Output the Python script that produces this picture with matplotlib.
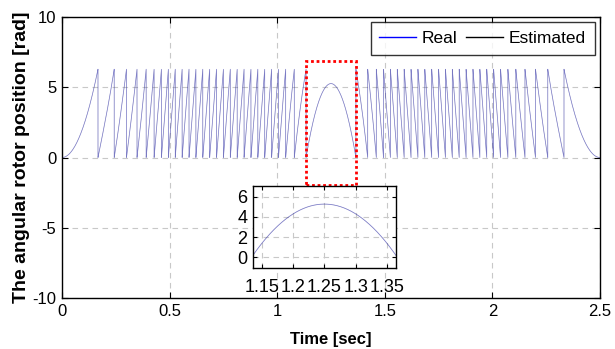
import numpy as np
import matplotlib
matplotlib.use("Agg")
import matplotlib.pyplot as plt
from matplotlib.lines import Line2D
from matplotlib.patches import Rectangle

# Rotor speed profile (time [s], speed [rad/s])
speed_t = [0, 0.167, 0.21, 0.273, 0.325, 0.372, 0.411, 0.446, 0.48, 1.014, 1.134,
           1.25, 1.366, 1.486, 2.02, 2.054, 2.089, 2.128, 2.175, 2.227, 2.29, 2.333, 2.5]
speed_w = [0, 75, 82, 112, 128, 148, 172, 185, 196.5, 196.5, 91,
           0, -91, -196.5, -196.5, -185, -172, -148, -128, -112, -82, -75, 0]

x_ticks = [0, 0.5, 1, 1.5, 2, 2.5]
y_ticks = [-10, -5, 0, 5, 10]
inset_x_ticks = [1.15, 1.2, 1.25, 1.3, 1.35]
inset_y_ticks = [0, 2, 4, 6]
legend_labels = ["Real", "Estimated"]

t = np.linspace(0, 2.5, 50001)
w = np.interp(t, speed_t, speed_w)
theta = np.concatenate([[0], np.cumsum(0.5 * (w[1:] + w[:-1]) * np.diff(t))])
theta = np.maximum(theta, 0)
real = np.mod(theta, 2 * np.pi)
estimated = real.copy()

plt.rcParams['font.family'] = ['Liberation Sans', 'DejaVu Sans']
plt.rcParams['axes.unicode_minus'] = False

fig = plt.figure(figsize=(6.15, 3.49), dpi=100)
ax = fig.add_axes([0.1008, 0.1461, 0.8748, 0.8052])

grid_kw = dict(color='#c8c8c8', linestyle=(0, (5, 4)), linewidth=0.8)

ax.plot(t, estimated, color='black', lw=0.35, alpha=0.25)
ax.plot(t, real, color='#3030c0', lw=0.55, alpha=0.5)
ax.set_xlim(0, 2.5)
ax.set_ylim(-10, 10)
ax.set_xticks(x_ticks)
ax.set_xticklabels(['0', '0.5', '1', '1.5', '2', '2.5'])
ax.set_yticks(y_ticks)
ax.grid(True, **grid_kw)
ax.tick_params(direction='in', labelsize=12, length=4, top=True, right=True,
               labeltop=False, labelright=False, pad=4)
for s in ax.spines.values():
    s.set_linewidth(1.0)
ax.set_xlabel('Time [sec]', fontsize=12, fontweight='bold', labelpad=10)
ax.set_ylabel('The angular rotor position [rad]', fontsize=14, fontweight='bold', labelpad=2)

ax.add_patch(Rectangle((1.134, -1.95), 0.232, 8.85, fill=False, edgecolor='red',
                       linestyle=(0, (1, 1)), linewidth=2.0, zorder=5))

handles = [Line2D([], [], color='blue', lw=1.0), Line2D([], [], color='black', lw=1.0)]
leg = ax.legend(handles, legend_labels, loc='upper right', ncol=2, fontsize=12.5,
                frameon=True, fancybox=False, edgecolor='black', borderpad=0.5,
                handlelength=2.1, handletextpad=0.35, columnspacing=0.5,
                borderaxespad=0.3)
leg.get_frame().set_linewidth(1.0)

axin = fig.add_axes([0.411, 0.2312, 0.233, 0.2358])
axin.plot(t, estimated, color='black', lw=0.35, alpha=0.25)
axin.plot(t, real, color='#3030c0', lw=0.6, alpha=0.5)
axin.set_xlim(1.136, 1.364)
axin.set_ylim(-1.1, 7.05)
axin.set_xticks(inset_x_ticks)
axin.set_xticklabels(['1.15', '1.2', '1.25', '1.3', '1.35'])
axin.set_yticks(inset_y_ticks)
axin.grid(True, **grid_kw)
axin.tick_params(axis='x', direction='in', labelsize=13, length=3, top=True, pad=8)
axin.tick_params(axis='y', direction='in', labelsize=13, length=3, right=True, pad=4)
for s in axin.spines.values():
    s.set_linewidth(1.0)

fig.savefig('out.png', dpi=100)
